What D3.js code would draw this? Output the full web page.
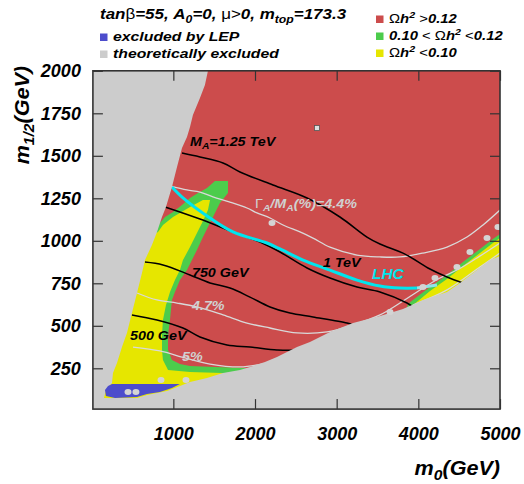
<!DOCTYPE html>
<html>
<head>
<meta charset="utf-8">
<script src="https://cdn.jsdelivr.net/npm/d3@7"></script>
<style>
  body { margin: 0; background: #fff; }
  text { font-family: "Liberation Sans", Arial, sans-serif; font-weight: bold; font-style: italic; }
</style>
</head>
<body>
<div id="chart"></div>
<script>
const width = 524,
    height = 484;

// axis ticks
const m0Ticks = [1000, 2000, 3000, 4000, 5000];
const m12Ticks = [250, 500, 750, 1000, 1250, 1500, 1750, 2000];

// regions, as [m0, m1/2] in GeV
const leftExcluded = [[1424,2000],[1387,1916],[1326,1840],[1240,1740],[1204,1669],[1167,1610],[1106,1546],
    [1045,1434],[983,1316],[910,1199],[861,1140],[800,1052],[738,975],[653,887],[616,811],[555,693],
    [493,575],[432,458],[371,375],[310,281],[261,222],[249,164],[175,122],[151,75],[151,10]];
const bottomExcluded = [[151,75],[555,75],[677,93],[922,116],[1081,146],[1204,169],[1412,193],[1608,222],
    [1816,240],[1938,258],[2122,287],[2269,316],[2514,375],[2673,405],[2918,464],[3200,516],[3530,558],
    [3812,599],[4057,652],[4351,699],[4510,752],[4718,828],[4877,887],[5000,910]];
const lepExcluded = [[163,122],[200,146],[249,158],[1081,158],[983,134],[836,111],[677,99],[555,81],[286,75],[175,87]];
const funnelGreen = [[1510,1352],[1669,1352],[1669,1281],[1571,1222],[1485,1140],[1424,1081],[1363,1022],
    [1289,946],[1228,887],[1167,828],[1081,769],[1020,699],[983,652],[959,534],[935,446],[935,358],
    [983,299],[1081,275],[1204,264],[1510,258],[1877,252],[2100,200],[2100,50],[150,50],[150,200],
    [400,700],[714,1063],[836,1105],[898,1140],[996,1169],[1106,1211],[1204,1252],[1302,1281],[1412,1311]];
const funnelYellow = [[1363,1240],[1449,1240],[1424,1181],[1351,1105],[1265,1022],[1204,963],[1118,887],
    [1081,828],[1020,769],[959,699],[910,622],[873,534],[861,446],[861,358],[873,299],[935,240],
    [1204,228],[1596,222],[2000,200],[2000,60],[150,60],[150,200],[400,700],[714,1028],[812,1052],
    [873,1093],[996,1140],[1204,1199]];
const stripGreen = [[3873,628],[3934,652],[4143,728],[4351,799],[4547,875],[4755,952],[4914,1011],[5000,1040],[5000,500],[3800,500]];
const stripYellow = [[3922,616],[4143,705],[4351,775],[4547,852],[4755,928],[4914,987],[5000,1016],[5000,500],[3850,500]];

// M_A contours
const mA1250 = [[1106,1516],[1326,1493],[1608,1458],[1816,1405],[2220,1328],[2637,1252],[3040,1140],
    [3371,1022],[3530,981],[3836,922],[4118,840],[4351,787],[4547,752]];
const mA1000 = [[898,1199],[1326,1128],[1730,1052],[2061,993],[2306,934],[2637,840],[2918,781],
    [3249,728],[3530,699],[3861,634],[3934,611]];
const mA750 = [[653,875],[873,858],[1204,799],[1449,752],[1694,722],[1938,669],[2184,611],[2428,575],
    [2710,552],[3126,516],[3200,505]];
const mA500 = [[493,564],[800,534],[1118,487],[1326,434],[1657,387],[1938,375],[2269,358],[2465,358],[2526,369]];

// LHC reach
const lhc = [[983,1316],[1118,1252],[1412,1146],[1730,1052],[2147,987],[2306,952],[2588,887],[2918,828],
    [3249,769],[3530,734],[3775,722],[3983,722]];
const lhcFaint = [[3983,722],[4228,740]];

// Gamma_A / M_A contours
const w44 = [[959,1323],[1167,1299],[1326,1287],[1485,1258],[1694,1228],[1902,1193],[2024,1164],
    [2184,1134],[2343,1093],[2551,1052],[2710,1016],[2918,963],[3249,916],[3530,905],[3775,905],
    [4057,928],[4351,963],[4596,1022],[4792,1093],[5000,1181]];
const w47 = [[555,693],[800,652],[1045,634],[1289,611],[1608,564],[1902,516],[2184,487],[2514,458],
    [2881,464],[3200,505],[3530,564],[3775,634],[4020,711],[4265,781],[4473,828],[4718,899],[5000,987]];
const w50 = [[506,375],[836,352],[1143,311],[1449,275],[1816,258],[2086,275]];
const w50strip = [[3934,622],[4351,711],[4755,846],[5000,928]];

// scan points
const lightPoints = [[2208,1105],[445,111],[542,111],[849,181],[1155,181],[3653,581],[4057,728],
    [4204,781],[4473,846],[4632,934],[4841,1016],[4975,1081]];
const greyPoint = [[2759,1663]];

const colors = { red: "#cc4c4c", green: "#4ccc4c", yellow: "#e6e600", blue: "#4c4ccc",
    grey: "#cccccc", cyan: "#00e5ee", light: "#d4d4d4" };

const svg = d3.select("#chart")
    .append("svg")
    .attr("width", width)
    .attr("height", height);

const x = d3.scaleLinear().domain([15, 5000]).range([92.9, 500]);
const y = d3.scaleLinear().domain([10, 2000]).range([409.1, 70.8]);

const straight = d3.line().x(d => x(d[0])).y(d => y(d[1]));
const smooth = d3.line().x(d => x(d[0])).y(d => y(d[1])).curve(d3.curveCatmullRom);

svg.append("defs").append("clipPath").attr("id", "frame")
  .append("rect")
    .attr("x", x(15)).attr("y", y(2000))
    .attr("width", x(5000) - x(15)).attr("height", y(10) - y(2000));

const plot = svg.append("g").attr("clip-path", "url(#frame)");

// relic density above the band: fill the whole frame
plot.append("rect")
    .attr("x", x(15)).attr("y", y(2000))
    .attr("width", x(5000) - x(15)).attr("height", y(10) - y(2000))
    .attr("fill", colors.red);

const poly = (pts, fill) => plot.append("path").attr("d", straight(pts) + "Z").attr("fill", fill);
poly(funnelGreen, colors.green);
poly(funnelYellow, colors.yellow);
poly(stripGreen, colors.green);
poly(stripYellow, colors.yellow);

const curve = (pts, stroke, w) => plot.append("path")
    .attr("d", smooth(pts))
    .attr("fill", "none")
    .attr("stroke", stroke)
    .attr("stroke-width", w);

curve(w44, "#d9d9d9", 1.3);
curve(w47, "#d9d9d9", 1.3);
curve(w50, "#d9d9d9", 1.3);
curve(w50strip, "#d9d9d9", 1.3);
[mA1250, mA1000, mA750, mA500].forEach(c => curve(c, "#000", 1.5));
curve(lhcFaint, "#8fe6ea", 3);
curve(lhc, colors.cyan, 3);

// excluded areas
poly([[15, 2000]].concat(leftExcluded, [[15, 10]]), colors.grey);
poly(bottomExcluded.concat([[5000, 10], [151, 10]]), colors.grey);
poly(lepExcluded, colors.blue);

plot.selectAll(".pt")
  .data(lightPoints)
  .join("ellipse")
    .attr("cx", d => x(d[0]))
    .attr("cy", d => y(d[1]))
    .attr("rx", 3.5)
    .attr("ry", 3)
    .attr("fill", colors.light);

plot.selectAll(".sq")
  .data(greyPoint)
  .join("rect")
    .attr("x", d => x(d[0]) - 2.5)
    .attr("y", d => y(d[1]) - 2.5)
    .attr("width", 5).attr("height", 5)
    .attr("fill", "#ddd")
    .attr("stroke", "#555")
    .attr("stroke-width", 0.8);

// rich text helper: parts are {t, sub, sup, reg}
function rich(sel, parts, size) {
    let shift = 0;
    parts.forEach(p => {
        const target = p.sub ? size * 0.25 : p.sup ? -size * 0.4 : 0;
        const ts = sel.append("tspan").attr("dy", target - shift).text(p.t);
        shift = target;
        if (p.sub || p.sup) ts.attr("font-size", size * 0.72);
        if (p.reg) ts.attr("font-weight", "normal").attr("font-style", "normal");
    });
    return sel;
}

// contour labels
const labels = [
    { at: [1204, 1557], fill: "#000", parts: [{t: "M"}, {t: "A", sub: 1}, {t: "=1.25 TeV"}] },
    { at: [2000, 1193], fill: "#d0d0d0", parts: [{t: "\u0393", reg: 1}, {t: "A", sub: 1}, {t: "/M"}, {t: "A", sub: 1}, {t: "(%)=4.4%"}] },
    { at: [2832, 846], fill: "#000", parts: [{t: "1 TeV"}] },
    { at: [1228, 787], fill: "#000", parts: [{t: "750 GeV"}] },
    { at: [1228, 593], fill: "#d0d0d0", parts: [{t: "4.7%"}] },
    { at: [469, 417], fill: "#000", parts: [{t: "500 GeV"}] },
    { at: [1106, 293], fill: "#d0d0d0", parts: [{t: "5%"}] }
];
labels.forEach(l => {
    const t = svg.append("text")
        .attr("transform", `translate(${x(l.at[0])},${y(l.at[1])}) scale(1.06,1)`)
        .attr("font-size", 13.5).attr("fill", l.fill);
    rich(t, l.parts, 13.5);
});
svg.append("text")
    .attr("x", x(3432)).attr("y", y(775))
    .attr("font-size", 15.5).attr("font-weight", "normal")
    .attr("fill", colors.cyan)
    .text("LHC");

// axes: ROOT style, ticks inside the frame on all four sides
const minorX = d3.range(200, 5000, 200);
const minorY = d3.range(50, 2000, 50);

const gx = svg.append("g").attr("transform", `translate(0,${y(10)})`);
gx.call(d3.axisBottom(x).tickValues(minorX).tickSize(-5).tickFormat(""));
gx.call(d3.axisBottom(x).tickValues(m0Ticks).tickSize(-10).tickPadding(18).tickFormat(d3.format("d")));

const gxt = svg.append("g").attr("transform", `translate(0,${y(2000)})`);
gxt.call(d3.axisTop(x).tickValues(minorX).tickSize(-5).tickFormat(""));
gxt.call(d3.axisTop(x).tickValues(m0Ticks).tickSize(-10).tickFormat(""));

const gy = svg.append("g").attr("transform", `translate(${x(15)},0)`);
gy.call(d3.axisLeft(y).tickValues(minorY).tickSize(-5).tickFormat(""));
gy.call(d3.axisLeft(y).tickValues(m12Ticks).tickSize(-10).tickPadding(12).tickFormat(d3.format("d")));

const gyr = svg.append("g").attr("transform", `translate(${x(5000)},0)`);
gyr.call(d3.axisRight(y).tickValues(minorY).tickSize(-5).tickFormat(""));
gyr.call(d3.axisRight(y).tickValues(m12Ticks).tickSize(-10).tickFormat(""));

svg.selectAll(".domain").remove();
svg.selectAll(".tick line").attr("stroke", "#333").attr("stroke-width", 1.2);
svg.selectAll(".tick text")
    .attr("font-size", 18)
    .attr("font-family", "Liberation Sans, Arial, sans-serif")
    .attr("font-weight", "bold")
    .attr("font-style", "italic")
    .attr("fill", "#000");

svg.append("rect")
    .attr("x", x(15)).attr("y", y(2000))
    .attr("width", x(5000) - x(15)).attr("height", y(10) - y(2000))
    .attr("fill", "none")
    .attr("stroke", "#333")
    .attr("stroke-width", 1.6);

// axis titles
const xt = svg.append("text")
    .attr("transform", "translate(500,475) scale(1.08,1)")
    .attr("text-anchor", "end")
    .attr("font-size", 20);
rich(xt, [{t: "m"}, {t: "0", sub: 1}, {t: "(GeV)"}], 20);

const yt = svg.append("text")
    .attr("transform", "translate(29,66) rotate(-90) scale(1.08,1)")
    .attr("text-anchor", "end")
    .attr("font-size", 20);
rich(yt, [{t: "m"}, {t: "1/2", sub: 1}, {t: "(GeV)"}], 20);

// header
const title = svg.append("text")
    .attr("transform", "translate(100,19) scale(1.17,1)")
    .attr("font-size", 14.5);
rich(title, [{t: "tan"}, {t: "\u03b2", reg: 1}, {t: "=55, A"}, {t: "0", sub: 1}, {t: "=0, "},
    {t: "\u03bc>", reg: 1}, {t: "0, m"}, {t: "top", sub: 1}, {t: "=173.3"}], 14.5);

const legendLeft = [
    { color: colors.blue, y: 41, parts: [{t: "excluded by LEP"}] },
    { color: colors.grey, y: 58, parts: [{t: "theoretically excluded"}] }
];
const legendRight = [
    { color: colors.red, y: 23, parts: [{t: "\u03a9", reg: 1}, {t: "h"}, {t: "2", sup: 1}, {t: " >", reg: 1}, {t: "0.12"}] },
    { color: colors.green, y: 40, parts: [{t: "0.10 "}, {t: "< \u03a9", reg: 1}, {t: "h"}, {t: "2", sup: 1}, {t: " <", reg: 1}, {t: "0.12"}] },
    { color: colors.yellow, y: 57, parts: [{t: "\u03a9", reg: 1}, {t: "h"}, {t: "2", sup: 1}, {t: " <", reg: 1}, {t: "0.10"}] }
];
function legend(items, bx, sx) {
    items.forEach(it => {
        svg.append("rect")
            .attr("x", bx).attr("y", it.y - 7.5)
            .attr("width", 7.5).attr("height", 7.5)
            .attr("fill", it.color);
        const t = svg.append("text")
            .attr("transform", `translate(${bx + 13},${it.y}) scale(${sx},1)`)
            .attr("font-size", 13.5);
        rich(t, it.parts, 13.5);
    });
}
legend(legendLeft, 100, 1.17);
legend(legendRight, 376, 1.1);
</script>
</body>
</html>
